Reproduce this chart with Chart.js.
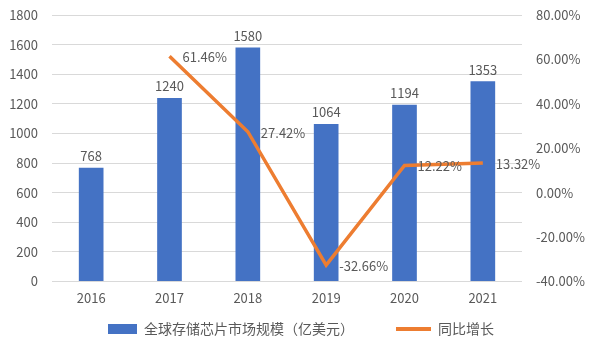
<!DOCTYPE html>
<html>
<head>
<meta charset="utf-8">
<script src="https://cdn.jsdelivr.net/npm/chart.js@4/dist/chart.umd.min.js"></script>
<style>
    html, body { margin: 0; padding: 0; background: #fff; }
    #wrap { width: 593px; height: 352px; }
</style>
</head>
<body>
<div id="wrap"><canvas id="myChart"></canvas></div>
<script>
    'use strict';

    var years = ['2016', '2017', '2018', '2019', '2020', '2021'];
    var marketSize = [768, 1240, 1580, 1064, 1194, 1353];
    var growth = [null, 61.46, 27.42, -32.66, 12.22, 13.32];
    var leftTicks = [0, 200, 400, 600, 800, 1000, 1200, 1400, 1600, 1800];
    var rightTicks = [-40, -20, 0, 20, 40, 60, 80];

    var textColor = '#595959';
    var fontFamily = '"Noto Sans CJK SC", "Noto Sans", sans-serif';

    // labels above bars and to the right of line points
    var valueLabels = {
        id: 'valueLabels',
        afterDatasetsDraw: function (chart) {
            var ctx = chart.ctx;
            ctx.save();
            ctx.font = '13px ' + fontFamily;
            ctx.fillStyle = textColor;

            chart.getDatasetMeta(0).data.forEach(function (bar, i) {
                ctx.textAlign = 'center';
                ctx.textBaseline = 'bottom';
                ctx.fillText(String(marketSize[i]), bar.x, bar.y - 5);
            });

            chart.getDatasetMeta(1).data.forEach(function (pt, i) {
                if (growth[i] === null) {
                    return;
                }
                ctx.textAlign = 'left';
                ctx.textBaseline = 'middle';
                ctx.fillText(growth[i].toFixed(2) + '%', pt.x + 13, pt.y + 1);
            });
            ctx.restore();
        }
    };

    // legend drawn by hand so spacing can follow the original
    var bottomLegend = {
        id: 'bottomLegend',
        afterDraw: function (chart) {
            var ctx = chart.ctx;
            var sets = chart.data.datasets;
            var y = chart.height - 23;
            var gap = 42;
            var sample = [29, 35];
            ctx.save();
            ctx.font = '14px ' + fontFamily;
            var widths = sets.map(function (ds, i) {
                return sample[i] + 7 + ctx.measureText(ds.label).width;
            });
            var total = widths[0] + gap + widths[1];
            var x = (chart.width - total) / 2 + 4.5;

            ctx.fillStyle = sets[0].backgroundColor;
            ctx.fillRect(x, y - 5, sample[0], 10);
            ctx.fillStyle = textColor;
            ctx.textAlign = 'left';
            ctx.textBaseline = 'middle';
            ctx.fillText(sets[0].label, x + sample[0] + 7, y);

            x += widths[0] + gap;
            ctx.strokeStyle = sets[1].borderColor;
            ctx.lineWidth = 4;
            ctx.beginPath();
            ctx.moveTo(x, y);
            ctx.lineTo(x + sample[1], y);
            ctx.stroke();
            ctx.fillText(sets[1].label, x + sample[1] + 7, y);
            ctx.restore();
        }
    };

    new Chart(document.getElementById('myChart'), {
        type: 'bar',
        data: {
            labels: years,
            datasets: [
                {
                    type: 'bar',
                    label: '全球存储芯片市场规模（亿美元）',
                    data: marketSize,
                    backgroundColor: '#4472C4',
                    borderWidth: 0,
                    barPercentage: 0.315,
                    categoryPercentage: 1,
                    yAxisID: 'y',
                    order: 2
                },
                {
                    type: 'line',
                    label: '同比增长',
                    data: growth,
                    borderColor: '#ED7D31',
                    backgroundColor: '#ED7D31',
                    borderWidth: 3.5,
                    pointRadius: 0,
                    tension: 0,
                    yAxisID: 'y1',
                    order: 1
                }
            ]
        },
        options: {
            responsive: true,
            maintainAspectRatio: false,
            animation: false,
            layout: {
                padding: { top: 15, left: 0, right: 0, bottom: 45 }
            },
            scales: {
                x: {
                    grid: { display: false },
                    border: { display: false },
                    ticks: {
                        color: textColor,
                        font: { family: fontFamily, size: 13 },
                        padding: 1
                    }
                },
                y: {
                    position: 'left',
                    min: 0,
                    max: 1800,
                    afterBuildTicks: function (axis) {
                        axis.ticks = leftTicks.map(function (v) { return { value: v }; });
                    },
                    afterFit: function (axis) { axis.width = 52; },
                    grid: { color: '#D9D9D9', tickColor: 'rgba(0,0,0,0)', tickLength: 14 },
                    border: { display: false },
                    ticks: {
                        color: textColor,
                        font: { family: fontFamily, size: 13 },
                        padding: 0,
                        callback: function (v) { return String(v); }
                    }
                },
                y1: {
                    position: 'right',
                    min: -40,
                    max: 80,
                    afterBuildTicks: function (axis) {
                        axis.ticks = rightTicks.map(function (v) { return { value: v }; });
                    },
                    afterFit: function (axis) { axis.width = 71; },
                    grid: { drawOnChartArea: false, tickColor: 'rgba(0,0,0,0)', tickLength: 14 },
                    border: { display: false },
                    ticks: {
                        color: textColor,
                        font: { family: fontFamily, size: 13 },
                        padding: 0,
                        callback: function (v) { return v.toFixed(2) + '%'; }
                    }
                }
            },
            plugins: {
                legend: { display: false },
                tooltip: { enabled: false }
            }
        },
        plugins: [valueLabels, bottomLegend]
    });
</script>
</body>
</html>
